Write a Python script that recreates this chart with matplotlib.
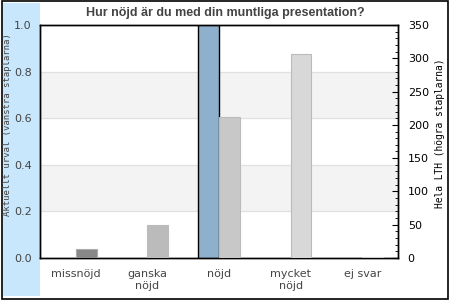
import matplotlib.pyplot as plt
import numpy as np
from matplotlib.patches import Rectangle
from matplotlib.ticker import MultipleLocator

categories = ['missnöjd', 'ganska\nnöjd', 'nöjd', 'mycket\nnöjd', 'ej svar']
current = [0.0, 0.0, 1.0, 0.0, 0.0]
lth = [14, 50, 212, 306, 2]

gray_fill = ['#888888', '#bbbbbb', '#c8c8c8', '#d8d8d8', '#e0e0e0']
gray_edge = ['#aaaaaa', '#bbbbbb', '#bbbbbb', '#bbbbbb', '#cccccc']

fig = plt.figure(figsize=(4.5, 3), dpi=100)
fig.patches.append(Rectangle((0.004, 0.004), 0.992, 0.992, transform=fig.transFigure,
                             fill=False, edgecolor='black', linewidth=1.2, zorder=-1))
fig.patches.append(Rectangle((3 / 450, 4 / 300), 37 / 450, 293 / 300, transform=fig.transFigure,
                             facecolor='#c8e7fd', edgecolor='none', zorder=-2))

ax = fig.add_axes([40 / 450, 42 / 300, 358 / 450, 233 / 300])
ax2 = ax.twinx()

x = np.arange(len(categories))
w = 0.29

ax.set_ylim(0, 1.0)
ax.set_xlim(-0.5, len(categories) - 0.5)
for lo in (0.2, 0.6):
    ax.axhspan(lo, lo + 0.2, color='#f3f3f3', zorder=0)
for g in (0.2, 0.4, 0.6, 0.8):
    ax.axhline(g, color='#e0e0e0', linewidth=0.8, zorder=0.5)

for i, v in enumerate(current):
    if v > 0:
        ax.bar(x[i] - w / 2, v, w, color='#8fb0cc', edgecolor='black', linewidth=1.0, zorder=3)

ax2.set_ylim(0, 350)
ax2.bar(x + w / 2, lth, w, color=gray_fill, edgecolor=gray_edge, linewidth=0.8, zorder=3)

ax.set_yticks([0, 0.2, 0.4, 0.6, 0.8, 1.0])
ax.set_yticklabels(['0.0', '0.2', '0.4', '0.6', '0.8', '1.0'])
ax.tick_params(axis='y', length=0, labelsize=8, labelcolor='#444444', pad=6)
ax.set_xticks(x)
ax.set_xticklabels(categories, fontsize=8, color='#444444', linespacing=1.25)
ax.tick_params(axis='x', length=0, pad=8)

ax2.yaxis.set_major_locator(MultipleLocator(50))
ax2.yaxis.set_minor_locator(MultipleLocator(10))
ax2.tick_params(axis='y', which='major', direction='in', length=4, labelsize=8, pad=7)
ax2.tick_params(axis='y', which='minor', direction='in', length=2)

for a in (ax, ax2):
    for s in a.spines.values():
        s.set_color('black')
        s.set_linewidth(1.0)

ax.set_ylabel('Aktuellt urval (vänstra staplarna)', family='DejaVu Sans Mono',
              fontsize=6.5, color='#444444')
ax.yaxis.set_label_coords(-0.077, 0.571)
ax2.set_ylabel('Hela LTH (högra staplarna)', family='DejaVu Sans Mono',
               fontsize=6.9, color='black')
ax2.yaxis.set_label_coords(1.102, 0.536)

fig.text(0.5, 0.958, 'Hur nöjd är du med din muntliga presentation?', ha='center', va='center',
         fontsize=9, fontweight='bold', color='#444444', family='Liberation Sans')

fig.savefig('out.png', dpi=100)
